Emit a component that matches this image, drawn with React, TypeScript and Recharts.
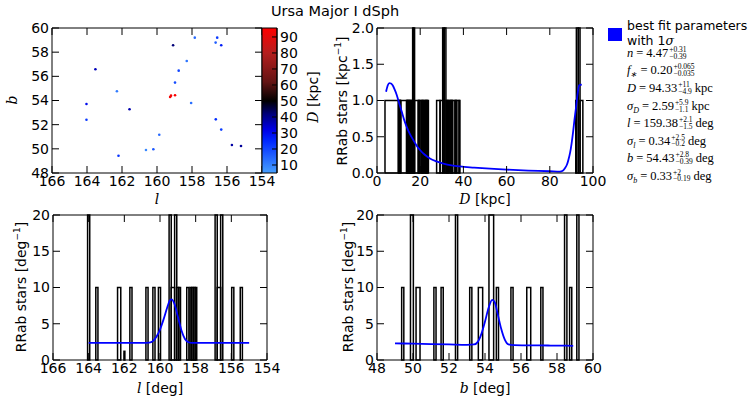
import { ComposedChart, ScatterChart, Scatter, Line, XAxis, YAxis, ReferenceArea } from "recharts";

const W = 750;
const H = 400;

// RRab stars: galactic l, b [deg] and distance D [kpc]
const starL = [159.08, 157.84, 156.56, 156.65, 156.33, 158.3, 158.76, 163.52, 158.97, 162.29, 159.25, 159.2, 158.97, 164.03, 158.05, 161.57, 164.03, 156.64, 156.33, 159.87, 155.72, 155.2, 160.63, 160.21, 162.2];
const starB = [58.57, 59.2, 59.2, 58.79, 58.57, 57.27, 56.47, 56.58, 55.48, 54.76, 54.29, 54.4, 54.43, 53.71, 53.79, 53.27, 52.41, 52.44, 51.59, 51.17, 50.32, 50.23, 49.9, 49.96, 49.43];
const starD = [42, 14, 22, 16, 27, 12, 20, 36, 19, 11, 94, 93, 95, 30, 13, 37, 22, 24, 21, 14, 38, 39, 9, 17, 23];

// histogram bins [lo, hi, height]
const distBins: [number, number, number][] = [
  [3.7, 9.9, 1], [9.9, 10.2, 1], [10.2, 10.5, 1], [10.5, 10.8, 1], [10.8, 11.0, 1],
  [11.0, 13.7, 1], [13.7, 14.0, 1], [14.0, 14.3, 1], [14.3, 14.6, 1], [14.6, 14.9, 1],
  [14.9, 15.2, 1], [15.2, 15.6, 1], [15.6, 16.0, 1], [16.0, 16.5, 1],
  [16.5, 16.9, 2], [16.9, 17.4, 2], [17.4, 19.1, 1], [19.1, 19.5, 1], [19.5, 19.9, 1],
  [19.9, 20.7, 1], [20.7, 21.1, 1], [21.1, 21.5, 1], [21.5, 22.2, 1], [22.2, 22.6, 1],
  [22.6, 23.0, 1], [23.0, 23.4, 1], [23.4, 23.8, 1],
  [27.6, 29.2, 1], [29.2, 30.4, 1], [30.4, 31.1, 2], [31.1, 31.9, 2],
  [31.9, 32.3, 1], [32.3, 32.7, 1], [32.7, 33.1, 1], [33.1, 33.8, 1], [33.8, 34.2, 1],
  [34.2, 34.6, 1], [34.6, 35.0, 1], [35.0, 36.1, 1], [36.1, 36.5, 1], [36.5, 36.9, 1],
  [36.9, 38.0, 1], [38.0, 38.4, 1],
  [92.0, 92.3, 1], [92.3, 93.2, 2], [93.2, 94.0, 2], [94.0, 95.3, 1],
];
const lonBins: [number, number, number][] = [
  [163.94, 164.06, 20], [163.48, 163.6, 10], [162.2, 162.38, 10], [161.97, 162.02, 1.2],
  [161.57, 161.69, 10], [160.67, 160.79, 10], [160.28, 160.4, 10], [159.97, 160.09, 10],
  [159.37, 159.49, 20], [159.18, 159.37, 10], [159.06, 159.18, 20],
  [158.95, 159.06, 10], [158.85, 158.95, 10], [158.38, 158.5, 10],
  [158.23, 158.32, 10], [158.13, 158.23, 10], [158.03, 158.13, 10], [157.94, 158.03, 10],
  [156.79, 156.91, 20], [156.6, 156.79, 10], [156.48, 156.6, 20],
  [155.86, 155.98, 10], [155.38, 155.5, 10],
];
const latBins: [number, number, number][] = [
  [49.37, 49.49, 10], [49.86, 50.02, 20], [50.17, 50.39, 10], [51.16, 51.28, 10],
  [51.56, 51.68, 10], [52.36, 52.48, 20], [53.15, 53.27, 10], [53.63, 53.87, 10],
  [54.22, 54.48, 20], [54.63, 54.75, 10], [55.44, 55.56, 10], [56.32, 56.54, 10],
  [57.1, 57.22, 10], [58.42, 58.55, 20], [58.7, 58.82, 10], [59.1, 59.22, 20],
];

// best-fit model curves [x, y]
const distModel: [number, number][] = [
  [4.2, 1.12], [5, 1.21], [5.7, 1.24], [6.5, 1.235], [7.25, 1.21], [8.2, 1.15], [9.1, 1.08],
  [10.2, 0.97], [11.4, 0.85], [12.5, 0.74], [13.7, 0.64], [15.2, 0.54], [16.8, 0.455],
  [18.3, 0.38], [19.9, 0.317], [22, 0.255], [24.5, 0.2], [27.5, 0.16], [30.7, 0.13],
  [34.5, 0.105], [38.4, 0.09], [45, 0.075], [52.3, 0.06], [60, 0.047], [70, 0.034],
  [80, 0.024], [84.7, 0.018], [86, 0.03], [87, 0.065], [88, 0.12], [88.6, 0.18],
  [89.4, 0.28], [90.1, 0.41], [90.8, 0.57], [91.4, 0.73], [92, 0.87], [92.5, 1.0],
  [93, 1.12], [93.6, 1.21], [94.8, 1.22],
];
const lonModel: [number, number][] = [
  [164, 2.35], [163, 2.35], [162, 2.35], [161, 2.36], [160.6, 2.4], [160.4, 2.6],
  [160.2, 3.2], [160.0, 4.2], [159.8, 5.6], [159.6, 7.2], [159.45, 8.2], [159.35, 8.35],
  [159.2, 7.8], [159.0, 6.0], [158.8, 4.1], [158.6, 2.9], [158.4, 2.45], [158.2, 2.35],
  [157, 2.35], [156, 2.35], [155, 2.35],
];
const latModel: [number, number][] = [
  [49, 2.3], [50, 2.25], [51, 2.2], [52, 2.15], [53, 2.1], [53.4, 2.15], [53.6, 2.5],
  [53.8, 3.6], [54.0, 5.3], [54.2, 7.2], [54.4, 8.3], [54.55, 7.9], [54.7, 6.4],
  [54.9, 4.3], [55.1, 2.8], [55.3, 2.15], [55.6, 2.05], [56.5, 2.02], [57.5, 2.0],
  [58.5, 1.97], [58.9, 1.95],
];

const lTicks = [166, 164, 162, 160, 158, 156, 154];
const bTicks = [48, 50, 52, 54, 56, 58, 60];
const dTicks = [0, 20, 40, 60, 80, 100];
const rateTicks = [0, 0.5, 1, 1.5, 2];
const countTicks = [0, 5, 10, 15, 20];
const cbarTicks = [10, 20, 30, 40, 50, 60, 70, 80, 90];
const cbarRange: [number, number] = [5, 95.6];

// legend text
const parSym = ["n", "f", "D", "σ", "l", "σ", "b", "σ"];
const parSub = ["", "∗", "", "D", "", "l", "", "b"];
const parVal = ["4.47", "0.20", "94.33", "2.59", "159.38", "0.34", "54.43", "0.33"];
const parUp = ["+0.31", "+0.065", "+11", "+5.9", "+2.1", "+2.5", "+2.8", "+2"];
const parDown = ["−0.39", "−0.035", "−4.9", "−1.1", "−1.5", "−0.2", "−0.39", "−0.19"];
const parUnit = ["", "", "kpc", "kpc", "deg", "deg", "deg", "deg"];

// colormap: light blue -> blue -> black -> red
const cmap: [number, number, number, number][] = [
  [5, 70, 160, 255], [25, 0, 40, 255], [32, 0, 0, 230], [42, 0, 0, 120], [50, 0, 0, 0],
  [62, 100, 20, 20], [80, 180, 30, 30], [95.6, 255, 0, 0],
];
const dColor = (v: number) => {
  for (let i = 1; i < cmap.length; i++) {
    if (v <= cmap[i][0] || i === cmap.length - 1) {
      const a = cmap[i - 1], b = cmap[i];
      const t = Math.max(0, Math.min(1, (v - a[0]) / (b[0] - a[0])));
      const c = [1, 2, 3].map((k) => Math.round(a[k] + (b[k] - a[k]) * t));
      return `rgb(${c[0]},${c[1]},${c[2]})`;
    }
  }
  return "#000";
};

const tickStyle = { fill: "#000", fontSize: 14, fontFamily: "DejaVu Sans" };
const TS = -7;

// inward ticks on all four sides, like the old matplotlib style
const frame = (xKey: string, xDom: [number, number], xT: number[], yKey: string, yDom: [number, number], yT: number[], reversed = false, yFmt?: (v: number) => string) => [
  <XAxis key="xb" dataKey={xKey} type="number" domain={xDom} ticks={xT} reversed={reversed} allowDataOverflow interval={0}
    height={1} tickSize={TS} tickMargin={10} stroke="#000" tick={tickStyle} />,
  <XAxis key="xt" xAxisId="top" orientation="top" dataKey={xKey} type="number" domain={xDom} ticks={xT} reversed={reversed}
    allowDataOverflow interval={0} height={1} tickSize={TS} tickFormatter={() => ""} stroke="#000" />,
  <YAxis key="yl" dataKey={yKey} type="number" domain={yDom} ticks={yT} allowDataOverflow interval={0}
    width={1} tickSize={TS} tickMargin={10} stroke="#000" tick={tickStyle} tickFormatter={yFmt} />,
  <YAxis key="yr" yAxisId="right" orientation="right" dataKey={yKey} type="number" domain={yDom} ticks={yT}
    allowDataOverflow interval={0} width={1} tickSize={TS} tickFormatter={() => ""} stroke="#000" />,
];

// margins so the plot area lands on the given pixel box (axes take 1px each side)
const plotBox = (l: number, t: number, r: number, b: number) => ({ left: l - 1, top: t - 1, right: W - r - 1, bottom: H - b - 1 });

const HistPanel = ({ box, bins, model, xDom, xT, yDom, yT, reversed, yFmt }: {
  box: ReturnType<typeof plotBox>; bins: [number, number, number][]; model: [number, number][];
  xDom: [number, number]; xT: number[]; yDom: [number, number]; yT: number[]; reversed?: boolean; yFmt?: (v: number) => string;
}) => (
  <div style={{ position: "absolute", left: 0, top: 0 }}>
    <ComposedChart width={W} height={H} margin={box} data={model.map(([x, y]) => ({ x, y }))}>
      {frame("x", xDom, xT, "y", yDom, yT, reversed, yFmt)}
      {bins.map(([lo, hi, h], i) => (
        <ReferenceArea key={i} x1={lo} x2={hi} y1={0} y2={h} fill="none" stroke="#000" strokeWidth={1.5} ifOverflow="visible" />
      ))}
      <Line dataKey="y" type="monotone" stroke="#0000ff" strokeWidth={1.8} dot={false} isAnimationActive={false} />
    </ComposedChart>
  </div>
);

const M = ({ children }: { children: React.ReactNode }) => (
  <span style={{ fontFamily: "DejaVu Serif", fontStyle: "italic" }}>{children}</span>
);

const Txt = ({ x, y, rot, size = 14, children }: { x: number; y: number; rot?: boolean; size?: number; children: React.ReactNode }) => (
  <div style={{
    position: "absolute", left: x, top: y, whiteSpace: "nowrap", fontSize: size, lineHeight: 1,
    fontFamily: "DejaVu Sans", transform: `translate(-50%,-50%)${rot ? " rotate(-90deg)" : ""}`,
  }}>{children}</div>
);

const Sup = ({ children }: { children: React.ReactNode }) => (
  <span style={{ fontSize: 9, verticalAlign: "6px" }}>{children}</span>
);

const parY = [53, 70, 88, 106, 123, 140.5, 158, 175.5];

export default function App() {
  const stars = starL.map((l, i) => ({ l, b: starB[i], d: starD[i] }));
  return (
    <div style={{ position: "absolute", left: 0, top: 0, width: W, height: H, background: "#fff", overflow: "hidden" }}>
      {/* sky positions coloured by distance */}
      <div style={{ position: "absolute", left: 0, top: 0 }}>
        <ScatterChart width={W} height={H} margin={plotBox(52, 28, 262, 173)}>
          {frame("l", [154, 166], lTicks, "b", [48, 60], bTicks, true)}
          <Scatter data={stars} isAnimationActive={false}
            shape={(p: any) => <circle cx={p.cx} cy={p.cy} r={1.3} fill={dColor(p.payload.d)} />} />
        </ScatterChart>
      </div>
      {/* colorbar */}
      <div style={{ position: "absolute", left: 0, top: 0 }}>
        <ComposedChart width={W} height={H} margin={{ left: 262, top: 28, right: W - 277 - 1, bottom: H - 173 }} data={[{ x: 0, y: 5 }, { x: 1, y: 95.6 }]}>
          <defs>
            <linearGradient id="cbar" x1="0" y1="0" x2="0" y2="1">
              {[...cmap].reverse().map(([v, r, g, b]) => (
                <stop key={v} offset={(cbarRange[1] - v) / (cbarRange[1] - cbarRange[0])} stopColor={`rgb(${r},${g},${b})`} />
              ))}
            </linearGradient>
          </defs>
          <XAxis dataKey="x" type="number" domain={[0, 1]} hide />
          <YAxis dataKey="y" orientation="right" type="number" domain={cbarRange} ticks={cbarTicks} interval={0} width={1}
            allowDataOverflow tickSize={-5} tickMargin={8} stroke="#000" tick={tickStyle} />
          <ReferenceArea x1={0} x2={1} y1={cbarRange[0]} y2={cbarRange[1]} fill="url(#cbar)" fillOpacity={1}
            stroke="#000" strokeWidth={1} ifOverflow="visible" />
        </ComposedChart>
      </div>
      <HistPanel box={plotBox(377, 28, 593, 173)} bins={distBins} model={distModel} xDom={[0, 100]} xT={dTicks}
        yDom={[0, 2]} yT={rateTicks} yFmt={(v) => v.toFixed(1)} />
      <HistPanel box={plotBox(53, 215, 267, 360)} bins={lonBins} model={lonModel} xDom={[154, 166]} xT={lTicks}
        yDom={[0, 20]} yT={countTicks} reversed />
      <HistPanel box={plotBox(377, 215, 593, 360)} bins={latBins} model={latModel} xDom={[48, 60]} xT={bTicks}
        yDom={[0, 20]} yT={countTicks} />

      <Txt x={335} y={11} size={14.5}>Ursa Major I dSph</Txt>
      <Txt x={12} y={100} rot><M>b</M></Txt>
      <Txt x={157} y={199}><M>l</M></Txt>
      <Txt x={313} y={97} rot><M>D</M> [kpc]</Txt>
      <Txt x={341} y={101} rot>RRab stars [kpc<Sup>−1</Sup>]</Txt>
      <Txt x={485} y={199}><M>D</M> [kpc]</Txt>
      <Txt x={20} y={287} rot>RRab stars [deg<Sup>−1</Sup>]</Txt>
      <Txt x={160} y={388}><M>l</M> [deg]</Txt>
      <Txt x={347} y={287} rot>RRab stars [deg<Sup>−1</Sup>]</Txt>
      <Txt x={485} y={388}><M>b</M> [deg]</Txt>

      {/* legend */}
      <div style={{ position: "absolute", left: 608, top: 28, width: 14, height: 13, background: "#0000ff" }} />
      <div style={{ position: "absolute", left: 627, top: 18, fontFamily: "DejaVu Sans", fontSize: 12.5, lineHeight: "15px", whiteSpace: "nowrap" }}>
        best fit parameters<br />with 1<M>σ</M>
      </div>
      {parSym.map((s, i) => (
        <div key={i} style={{
          position: "absolute", left: 627, top: parY[i], transform: "translateY(-50%)", display: "flex", alignItems: "center",
          fontFamily: "Liberation Serif", fontSize: 12.5, whiteSpace: "nowrap", lineHeight: 1,
        }}>
          <span style={{ fontStyle: "italic" }}>{s}</span>
          {parSub[i] && <span style={{ fontSize: 8, fontStyle: "italic", alignSelf: "flex-end", marginBottom: -2 }}>{parSub[i]}</span>}
          <span style={{ margin: "0 3px" }}>=</span>
          <span>{parVal[i]}</span>
          <span style={{ display: "inline-flex", flexDirection: "column", fontSize: 7.5, lineHeight: "6.5px", marginLeft: 1 }}>
            <span>{parUp[i]}</span>
            <span>{parDown[i]}</span>
          </span>
          {parUnit[i] && <span style={{ marginLeft: 3 }}>{parUnit[i]}</span>}
        </div>
      ))}
    </div>
  );
}
